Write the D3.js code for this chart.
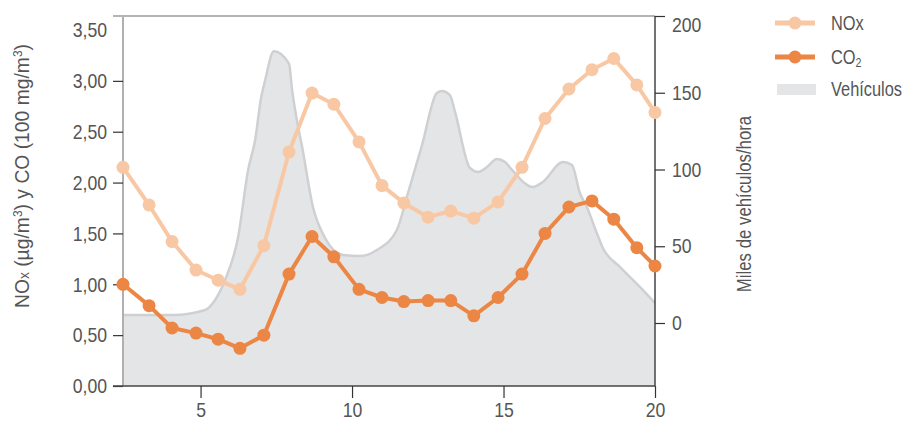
<!DOCTYPE html>
<html><head><meta charset="utf-8">
<script src="https://cdn.jsdelivr.net/npm/d3@7"></script>
<style>
html,body{margin:0;padding:0;background:#fff;}
svg text{font-family:"Liberation Sans","Arial",sans-serif;fill:#555;}
</style></head>
<body><svg id="c" width="903" height="423"></svg>
<script>
// x positions of hourly samples (in axis units)
const sampleX = [2.44,3.30,4.06,4.85,5.58,6.30,7.09,7.92,8.68,9.40,10.23,10.99,11.71,12.51,13.26,14.02,14.82,15.61,16.37,17.16,17.92,18.64,19.40,20.00];
const noxValues = [2.15,1.78,1.42,1.14,1.04,0.95,1.38,2.30,2.88,2.77,2.40,1.97,1.80,1.66,1.72,1.65,1.81,2.15,2.63,2.92,3.11,3.22,2.96,2.69];
const co2Values = [1.00,0.79,0.57,0.52,0.46,0.37,0.50,1.10,1.47,1.27,0.95,0.87,0.83,0.84,0.84,0.69,0.87,1.10,1.50,1.76,1.82,1.64,1.36,1.18];
const vehX = [2.44,4.09,5.15,5.48,5.81,6.24,6.57,6.80,7.00,7.13,7.42,7.92,8.02,8.18,8.35,8.71,9.11,9.70,10.26,10.82,11.48,11.81,12.31,12.80,12.97,13.23,13.40,13.89,14.16,14.45,14.78,15.05,15.28,15.97,16.30,16.96,17.26,17.52,17.75,18.08,18.28,18.84,19.50,20.00];
const vehValues = [5.2,5.2,8.5,15,28,56,99.7,119,147,158,177,169,152,132,115,75.6,55.4,44.3,43.6,47.6,60.6,82.1,115.9,149.8,151.1,148.5,137.5,101,98.4,101.6,106.8,104.9,99.7,88.6,91.9,104.9,102.9,84.7,75.6,58.6,48.9,36.5,23.5,13];
const xTicks = [5,10,15,20];
const leftTicks = [0,0.5,1,1.5,2,2.5,3,3.5];
const rightTicks = [0,50,100,150,200];

const svg = d3.select("#c");
const L = 123, R = 655, T = 16, B = 386;
const x = d3.scaleLinear().domain([2.44,20]).range([L,R]);
const yL = d3.scaleLinear().domain([0,3.5]).range([B,30]);
const yR = d3.scaleLinear().domain([0,200]).range([323,T]);

function condense(sel, f){
  sel.each(function(){
    const w = this.getComputedTextLength();
    d3.select(this).attr("textLength", w*f).attr("lengthAdjust","spacingAndGlyphs");
  });
}

// area
const area = d3.area().x((d,i)=>x(vehX[i])).y0(B).y1(d=>yR(d)).curve(d3.curveMonotoneX);
svg.append("path").attr("d",area(vehValues)).attr("fill","#e4e5e7");
const outline = d3.line().x((d,i)=>x(vehX[i])).y(d=>yR(d)).curve(d3.curveMonotoneX);
svg.append("path").attr("d",outline(vehValues)).attr("fill","none").attr("stroke","#cfd0d2").attr("stroke-width",2.5);

// frame lines
svg.append("line").attr("x1",L).attr("x2",L).attr("y1",T+1).attr("y2",B).attr("stroke","#b0b0b0").attr("stroke-width",2);
svg.append("line").attr("x1",113).attr("x2",R).attr("y1",T).attr("y2",T).attr("stroke","#6a6a6a").attr("stroke-width",1.2);

const fmt = d => d3.format(".2f")(d).replace(".",",");
// left axis
const gl = svg.append("g").attr("transform",`translate(${L},0)`)
  .call(d3.axisLeft(yL).tickValues(leftTicks).tickFormat(fmt).tickSize(10).tickPadding(6));
gl.select(".domain").remove();
gl.selectAll(".tick line").attr("stroke","#333").attr("stroke-width",1.2);
gl.selectAll(".tick").filter(d=>d===3.5).select("line").remove();
gl.selectAll(".tick text").attr("font-size",21).style("fill","#555").call(condense,0.84);

// right axis
const gr = svg.append("g").attr("transform",`translate(${R},0)`)
  .call(d3.axisRight(yR).tickValues(rightTicks).tickSize(10).tickPadding(7));
gr.select(".domain").attr("d",`M0,${T}V${B}`).attr("stroke","#444").attr("stroke-width",1.5);
gr.selectAll(".tick line").attr("stroke","#333").attr("stroke-width",1.2);
gr.selectAll(".tick text").attr("font-size",21).style("fill","#555").call(condense,0.84);
gr.selectAll(".tick").filter(d=>d===200).select("text").attr("dy","0.72em");

// bottom axis
const gb = svg.append("g").attr("transform",`translate(0,${B})`)
  .call(d3.axisBottom(x).tickValues(xTicks).tickSize(12).tickPadding(4));
gb.select(".domain").attr("d",`M113,0H${R}`).attr("stroke","#444").attr("stroke-width",1.5);
gb.selectAll(".tick line").attr("stroke","#333").attr("stroke-width",1.2);
gb.selectAll(".tick text").attr("font-size",21).style("fill","#555").call(condense,0.84);

// series
function series(vals, color){
  const line = d3.line().x((d,i)=>x(sampleX[i])).y(d=>yL(d));
  svg.append("path").attr("d",line(vals)).attr("fill","none").attr("stroke",color).attr("stroke-width",4).attr("stroke-linejoin","round");
  svg.append("g").selectAll("circle").data(vals).join("circle")
    .attr("cx",(d,i)=>x(sampleX[i])).attr("cy",d=>yL(d)).attr("r",6.5).attr("fill",color);
}
series(noxValues,"#f8c8a4");
series(co2Values,"#ec8644");

// axis titles
const lt = svg.append("text").attr("transform","translate(29,176) rotate(-90) scale(0.92,1)").attr("text-anchor","middle").attr("font-size",21);
lt.append("tspan").text("NO");
lt.append("tspan").text("x").attr("font-size",15);
lt.append("tspan").text(" (µg/m");
lt.append("tspan").text("3").attr("font-size",13).attr("dy",-7);
lt.append("tspan").text(") y CO (100 mg/m").attr("dy",7);
lt.append("tspan").text("3").attr("font-size",13).attr("dy",-7);
lt.append("tspan").text(")").attr("dy",7);

svg.append("text").attr("transform","translate(751,204) rotate(-90) scale(0.84,1)").attr("text-anchor","middle").attr("font-size",20).text("Miles de vehículos/hora");

// legend
const lg = svg.append("g");
const items = [{name:"NOx",color:"#f8c8a4",y:23},{name:"CO",sub:"2",color:"#ec8644",y:57}];
items.forEach(it=>{
  lg.append("line").attr("x1",775).attr("x2",815).attr("y1",it.y).attr("y2",it.y).attr("stroke",it.color).attr("stroke-width",5);
  lg.append("circle").attr("cx",795).attr("cy",it.y).attr("r",6.5).attr("fill",it.color);
  const t = lg.append("text").attr("transform",`translate(831,${it.y}) scale(0.82,1)`).attr("dy","0.35em").attr("font-size",20);
  t.append("tspan").text(it.name);
  if(it.sub) t.append("tspan").text(it.sub).attr("font-size",13).attr("dy",3);
});
lg.append("rect").attr("x",777).attr("y",84).attr("width",39).attr("height",11).attr("fill","#e4e5e7");
lg.append("text").attr("transform","translate(831,89) scale(0.82,1)").attr("dy","0.35em").attr("font-size",20).text("Vehículos");
</script></body></html>
